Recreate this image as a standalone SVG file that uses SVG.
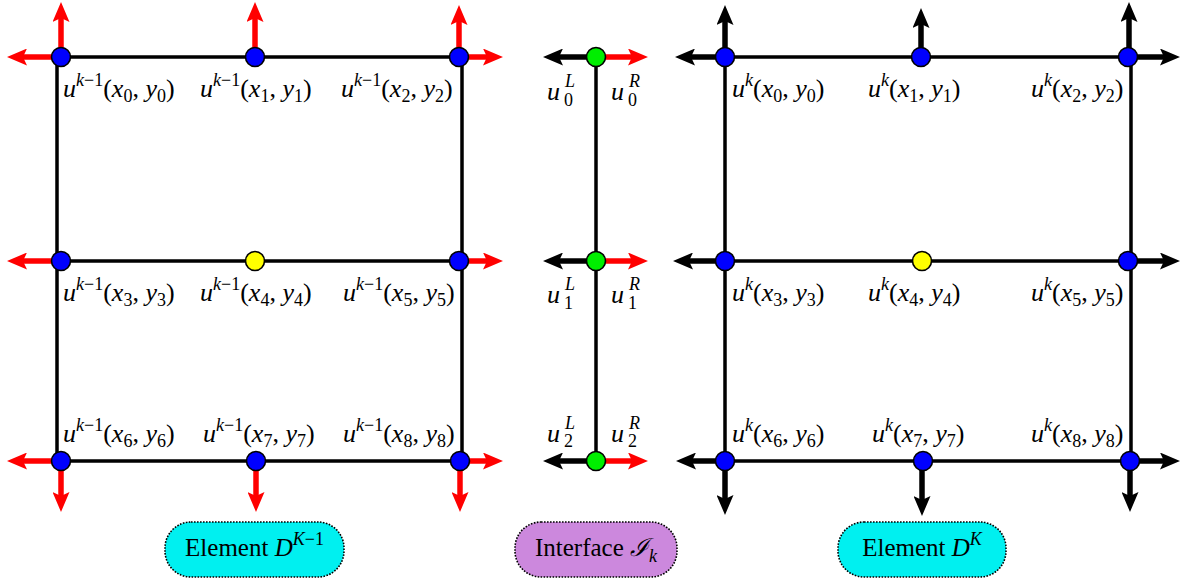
<svg xmlns="http://www.w3.org/2000/svg" width="1186" height="584" viewBox="0 0 1186 584" font-family="Liberation Serif, Times New Roman, serif">
<style>
.g{stroke:#000;stroke-width:3.5;fill:none}
.ar{stroke:#f00;stroke-width:5.5;marker-end:url(#hr)}
.ab{stroke:#000;stroke-width:5.5;marker-end:url(#hb)}
.n{stroke:#000;stroke-width:1.6}
.blue{fill:#0000ff}.yel{fill:#ffff00}.grn{fill:#00ee00}
.m{font-size:26px;font-style:italic;fill:#000}
.r{font-style:normal}
.s{font-size:18px}
.box{stroke:#000;stroke-width:1.6;stroke-dasharray:1.6 1.4}
.bt{font-size:25px;fill:#000;text-anchor:middle}
</style>
<defs>
<marker id="hr" viewBox="0 0 20 17" refX="8" refY="8.5" markerWidth="20" markerHeight="17" markerUnits="userSpaceOnUse" orient="auto"><path d="M0,0 L20,8.5 L0,17 L4,8.5 Z" fill="#f00"/></marker>
<marker id="hb" viewBox="0 0 20 17" refX="8" refY="8.5" markerWidth="20" markerHeight="17" markerUnits="userSpaceOnUse" orient="auto"><path d="M0,0 L20,8.5 L0,17 L4,8.5 Z" fill="#000"/></marker>
</defs>
<g id="connectors">
<path class="g" d="M57,57 H462 M57,261 H462 M57,461 H462 M57,57 V461 M462,57 V461"/>
<path class="g" d="M725,57 H1131 M725,261 H1131 M725,461 H1131 M725,57 V461 M1131,57 V461"/>
<path class="g" d="M596,57 V461"/>
<line class="ar" x1="61" y1="57" x2="61" y2="14"/>
<line class="ar" x1="61" y1="57" x2="19" y2="57"/>
<line class="ar" x1="255" y1="57" x2="255" y2="14"/>
<line class="ar" x1="459" y1="57" x2="459" y2="17"/>
<line class="ar" x1="459" y1="57" x2="491" y2="57"/>
<line class="ar" x1="61" y1="261" x2="19" y2="261"/>
<line class="ar" x1="459" y1="261" x2="491" y2="261"/>
<line class="ar" x1="61" y1="461" x2="19" y2="461"/>
<line class="ar" x1="61" y1="461" x2="61" y2="500"/>
<line class="ar" x1="256" y1="461" x2="256" y2="500"/>
<line class="ar" x1="460" y1="461" x2="460" y2="500"/>
<line class="ar" x1="460" y1="461" x2="491" y2="461"/>
<line class="ab" x1="725" y1="57" x2="725" y2="17"/>
<line class="ab" x1="725" y1="57" x2="687" y2="57"/>
<line class="ab" x1="921" y1="57" x2="921" y2="20"/>
<line class="ab" x1="1129" y1="57" x2="1129" y2="14"/>
<line class="ab" x1="1129" y1="57" x2="1168" y2="57"/>
<line class="ab" x1="725" y1="261" x2="685" y2="261"/>
<line class="ab" x1="1129" y1="261" x2="1168" y2="261"/>
<line class="ab" x1="725" y1="461" x2="688" y2="461"/>
<line class="ab" x1="725" y1="461" x2="725" y2="503"/>
<line class="ab" x1="922" y1="461" x2="922" y2="504"/>
<line class="ab" x1="1130" y1="461" x2="1130" y2="500"/>
<line class="ab" x1="1130" y1="461" x2="1168" y2="461"/>
<line class="ab" x1="596" y1="57" x2="555" y2="57"/>
<line class="ar" x1="596" y1="57" x2="636" y2="57"/>
<line class="ab" x1="596" y1="261" x2="555" y2="261"/>
<line class="ar" x1="596" y1="261" x2="636" y2="261"/>
<line class="ab" x1="596" y1="461" x2="555" y2="461"/>
<line class="ar" x1="596" y1="461" x2="636" y2="461"/>
</g>
<g id="elemKm1">
<circle class="n blue" cx="61" cy="57" r="9.5"/>
<circle class="n blue" cx="255" cy="57" r="9.5"/>
<circle class="n blue" cx="459" cy="57" r="9.5"/>
<circle class="n blue" cx="61" cy="261" r="9.5"/>
<circle class="n yel" cx="255" cy="261" r="9.5"/>
<circle class="n blue" cx="459" cy="261" r="9.5"/>
<circle class="n blue" cx="61" cy="461" r="9.5"/>
<circle class="n blue" cx="256" cy="461" r="9.5"/>
<circle class="n blue" cx="460" cy="461" r="9.5"/>
<text class="m" x="63" y="97">u<tspan class="s" dy="-11">k</tspan><tspan class="s r">−1</tspan><tspan class="r" dy="11">(</tspan>x<tspan class="s r" dy="5">0</tspan><tspan class="r" dy="-5">, </tspan>y<tspan class="s r" dy="5">0</tspan><tspan class="r" dy="-5">)</tspan></text>
<text class="m" x="200" y="97">u<tspan class="s" dy="-11">k</tspan><tspan class="s r">−1</tspan><tspan class="r" dy="11">(</tspan>x<tspan class="s r" dy="5">1</tspan><tspan class="r" dy="-5">, </tspan>y<tspan class="s r" dy="5">1</tspan><tspan class="r" dy="-5">)</tspan></text>
<text class="m" x="341" y="97">u<tspan class="s" dy="-11">k</tspan><tspan class="s r">−1</tspan><tspan class="r" dy="11">(</tspan>x<tspan class="s r" dy="5">2</tspan><tspan class="r" dy="-5">, </tspan>y<tspan class="s r" dy="5">2</tspan><tspan class="r" dy="-5">)</tspan></text>
<text class="m" x="63" y="301">u<tspan class="s" dy="-11">k</tspan><tspan class="s r">−1</tspan><tspan class="r" dy="11">(</tspan>x<tspan class="s r" dy="5">3</tspan><tspan class="r" dy="-5">, </tspan>y<tspan class="s r" dy="5">3</tspan><tspan class="r" dy="-5">)</tspan></text>
<text class="m" x="200" y="301">u<tspan class="s" dy="-11">k</tspan><tspan class="s r">−1</tspan><tspan class="r" dy="11">(</tspan>x<tspan class="s r" dy="5">4</tspan><tspan class="r" dy="-5">, </tspan>y<tspan class="s r" dy="5">4</tspan><tspan class="r" dy="-5">)</tspan></text>
<text class="m" x="343" y="301">u<tspan class="s" dy="-11">k</tspan><tspan class="s r">−1</tspan><tspan class="r" dy="11">(</tspan>x<tspan class="s r" dy="5">5</tspan><tspan class="r" dy="-5">, </tspan>y<tspan class="s r" dy="5">5</tspan><tspan class="r" dy="-5">)</tspan></text>
<text class="m" x="63" y="442">u<tspan class="s" dy="-11">k</tspan><tspan class="s r">−1</tspan><tspan class="r" dy="11">(</tspan>x<tspan class="s r" dy="5">6</tspan><tspan class="r" dy="-5">, </tspan>y<tspan class="s r" dy="5">6</tspan><tspan class="r" dy="-5">)</tspan></text>
<text class="m" x="203" y="442">u<tspan class="s" dy="-11">k</tspan><tspan class="s r">−1</tspan><tspan class="r" dy="11">(</tspan>x<tspan class="s r" dy="5">7</tspan><tspan class="r" dy="-5">, </tspan>y<tspan class="s r" dy="5">7</tspan><tspan class="r" dy="-5">)</tspan></text>
<text class="m" x="343" y="442">u<tspan class="s" dy="-11">k</tspan><tspan class="s r">−1</tspan><tspan class="r" dy="11">(</tspan>x<tspan class="s r" dy="5">8</tspan><tspan class="r" dy="-5">, </tspan>y<tspan class="s r" dy="5">8</tspan><tspan class="r" dy="-5">)</tspan></text>
</g>
<g id="interface">
<circle class="n grn" cx="596" cy="57" r="9.5"/>
<circle class="n grn" cx="596" cy="261" r="9.5"/>
<circle class="n grn" cx="596" cy="461" r="9.5"/>
<text class="m" x="547" y="100">u<tspan class="s" x="565" y="87">L</tspan><tspan class="s r" x="564" y="106">0</tspan></text>
<text class="m" x="611" y="100">u<tspan class="s" x="629" y="87">R</tspan><tspan class="s r" x="628" y="106">0</tspan></text>
<text class="m" x="547" y="303">u<tspan class="s" x="565" y="290">L</tspan><tspan class="s r" x="564" y="309">1</tspan></text>
<text class="m" x="611" y="303">u<tspan class="s" x="629" y="290">R</tspan><tspan class="s r" x="628" y="309">1</tspan></text>
<text class="m" x="547" y="442">u<tspan class="s" x="565" y="429">L</tspan><tspan class="s r" x="564" y="447">2</tspan></text>
<text class="m" x="611" y="442">u<tspan class="s" x="629" y="429">R</tspan><tspan class="s r" x="628" y="447">2</tspan></text>
</g>
<g id="elemK">
<circle class="n blue" cx="725" cy="57" r="9.5"/>
<circle class="n blue" cx="921" cy="57" r="9.5"/>
<circle class="n blue" cx="1128" cy="57" r="9.5"/>
<circle class="n blue" cx="725" cy="261" r="9.5"/>
<circle class="n yel" cx="922" cy="261" r="9.5"/>
<circle class="n blue" cx="1128" cy="261" r="9.5"/>
<circle class="n blue" cx="725" cy="461" r="9.5"/>
<circle class="n blue" cx="923" cy="461" r="9.5"/>
<circle class="n blue" cx="1130" cy="461" r="9.5"/>
<text class="m" x="732" y="97">u<tspan class="s" dy="-11">k</tspan><tspan class="r" dy="11">(</tspan>x<tspan class="s r" dy="5">0</tspan><tspan class="r" dy="-5">, </tspan>y<tspan class="s r" dy="5">0</tspan><tspan class="r" dy="-5">)</tspan></text>
<text class="m" x="868" y="97">u<tspan class="s" dy="-11">k</tspan><tspan class="r" dy="11">(</tspan>x<tspan class="s r" dy="5">1</tspan><tspan class="r" dy="-5">, </tspan>y<tspan class="s r" dy="5">1</tspan><tspan class="r" dy="-5">)</tspan></text>
<text class="m" x="1031" y="97">u<tspan class="s" dy="-11">k</tspan><tspan class="r" dy="11">(</tspan>x<tspan class="s r" dy="5">2</tspan><tspan class="r" dy="-5">, </tspan>y<tspan class="s r" dy="5">2</tspan><tspan class="r" dy="-5">)</tspan></text>
<text class="m" x="732" y="301">u<tspan class="s" dy="-11">k</tspan><tspan class="r" dy="11">(</tspan>x<tspan class="s r" dy="5">3</tspan><tspan class="r" dy="-5">, </tspan>y<tspan class="s r" dy="5">3</tspan><tspan class="r" dy="-5">)</tspan></text>
<text class="m" x="868" y="301">u<tspan class="s" dy="-11">k</tspan><tspan class="r" dy="11">(</tspan>x<tspan class="s r" dy="5">4</tspan><tspan class="r" dy="-5">, </tspan>y<tspan class="s r" dy="5">4</tspan><tspan class="r" dy="-5">)</tspan></text>
<text class="m" x="1031" y="301">u<tspan class="s" dy="-11">k</tspan><tspan class="r" dy="11">(</tspan>x<tspan class="s r" dy="5">5</tspan><tspan class="r" dy="-5">, </tspan>y<tspan class="s r" dy="5">5</tspan><tspan class="r" dy="-5">)</tspan></text>
<text class="m" x="732" y="442">u<tspan class="s" dy="-11">k</tspan><tspan class="r" dy="11">(</tspan>x<tspan class="s r" dy="5">6</tspan><tspan class="r" dy="-5">, </tspan>y<tspan class="s r" dy="5">6</tspan><tspan class="r" dy="-5">)</tspan></text>
<text class="m" x="872" y="442">u<tspan class="s" dy="-11">k</tspan><tspan class="r" dy="11">(</tspan>x<tspan class="s r" dy="5">7</tspan><tspan class="r" dy="-5">, </tspan>y<tspan class="s r" dy="5">7</tspan><tspan class="r" dy="-5">)</tspan></text>
<text class="m" x="1031" y="442">u<tspan class="s" dy="-11">k</tspan><tspan class="r" dy="11">(</tspan>x<tspan class="s r" dy="5">8</tspan><tspan class="r" dy="-5">, </tspan>y<tspan class="s r" dy="5">8</tspan><tspan class="r" dy="-5">)</tspan></text>
</g>
<g id="label-elemKm1">
<rect class="box" x="165" y="522" width="179" height="55" rx="26" fill="#00f0f0"/>
<text class="bt" x="254.5" y="556">Element <tspan font-style="italic">D</tspan><tspan font-size="18" dy="-11"><tspan font-style="italic">K</tspan>−1</tspan></text>
</g>
<g id="label-interface">
<rect class="box" x="515" y="522" width="162" height="55" rx="26" fill="#cc88dd"/>
<text class="bt" x="596" y="556">Interface <tspan font-family="DejaVu Serif, serif" font-style="italic">ℐ</tspan><tspan font-size="18" font-style="italic" dy="6">k</tspan></text>
</g>
<g id="label-elemK">
<rect class="box" x="838" y="522" width="168" height="55" rx="26" fill="#00f0f0"/>
<text class="bt" x="922" y="556">Element <tspan font-style="italic">D</tspan><tspan font-size="18" font-style="italic" dy="-11">K</tspan></text>
</g>
</svg>
